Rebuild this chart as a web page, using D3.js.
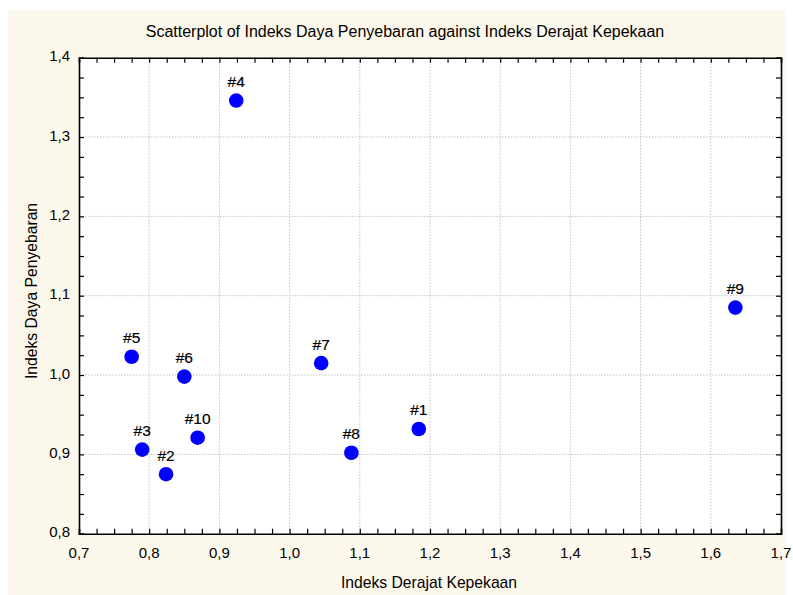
<!DOCTYPE html>
<html>
<head>
<meta charset="utf-8">
<script src="https://cdn.jsdelivr.net/npm/d3@7"></script>
<style>
	body { margin: 0; background: #ffffff; }
	text { font-family: Arial, "Liberation Sans", sans-serif; fill: #000; }
</style>
</head>
<body>
<div id="chart"></div>
<script>

// point labels and values
var caseLabels = ["#1", "#2", "#3", "#4", "#5", "#6", "#7", "#8", "#9", "#10"];
var derajatKepekaan = [1.184, 0.824, 0.790, 0.924, 0.775, 0.850, 1.045, 1.088, 1.635, 0.869];
var dayaPenyebaran = [0.932, 0.875, 0.906, 1.346, 1.023, 0.998, 1.015, 0.902, 1.085, 0.921];

var xTicks = [0.7, 0.8, 0.9, 1.0, 1.1, 1.2, 1.3, 1.4, 1.5, 1.6, 1.7];
var yTicks = [0.8, 0.9, 1.0, 1.1, 1.2, 1.3, 1.4];

var titleText = "Scatterplot of Indeks Daya Penyebaran against Indeks Derajat Kepekaan";
var xTitle = "Indeks Derajat Kepekaan";
var yTitle = "Indeks Daya Penyebaran";

function init() {

	var width = 793;
	var height = 595;
	var margin = {top: 57.7, right: 12, bottom: 61.3, left: 79};
	var plotW = width - margin.left - margin.right;
	var plotH = height - margin.top - margin.bottom;

	var svg = d3.select("div#chart")
		.append("svg")
		.attr("width", width)
		.attr("height", height);

	// cream panel behind everything
	svg.append("rect")
		.attr("x", 8)
		.attr("y", 10)
		.attr("width", 778)
		.attr("height", height - 10)
		.attr("fill", "#fdf8ec");

	var g = svg.append("g")
		.attr("transform", "translate(" + margin.left + "," + margin.top + ")");

	var x = d3.scaleLinear().domain([0.7, 1.7]).range([0, plotW]);
	var y = d3.scaleLinear().domain([0.8, 1.4]).range([plotH, 0]);

	var fmt = function(d) { return d3.format(".1f")(d).replace(".", ","); };

	g.append("rect")
		.attr("width", plotW)
		.attr("height", plotH)
		.attr("fill", "#ffffff");

	// dotted grid
	g.append("g")
		.selectAll("line")
		.data(xTicks.slice(1, -1))
		.enter()
		.append("line")
		.attr("x1", d => x(d)).attr("x2", d => x(d))
		.attr("y1", 0).attr("y2", plotH)
		.attr("stroke", "#c4c4c4")
		.attr("stroke-dasharray", "1.5,1.5");

	g.append("g")
		.selectAll("line")
		.data(yTicks.slice(1, -1))
		.enter()
		.append("line")
		.attr("y1", d => y(d)).attr("y2", d => y(d))
		.attr("x1", 0).attr("x2", plotW)
		.attr("stroke", "#c4c4c4")
		.attr("stroke-dasharray", "1.5,1.5");

	// minor ticks every 0.025, pointing inward on all four sides
	var xMinor = d3.range(0, 41).map(i => 0.7 + i * 0.025);
	var yMinor = d3.range(0, 25).map(i => 0.8 + i * 0.025);

	var bottomAxis = d3.axisBottom(x).tickValues(xMinor).tickSize(-5).tickFormat("");
	var topAxis = d3.axisTop(x).tickValues(xMinor).tickSize(-5).tickFormat("");
	var leftAxis = d3.axisLeft(y).tickValues(yMinor).tickSize(-5).tickFormat("");
	var rightAxis = d3.axisRight(y).tickValues(yMinor).tickSize(-5).tickFormat("");

	[
		[bottomAxis, "translate(0," + plotH + ")"],
		[topAxis, "translate(0,0)"],
		[leftAxis, "translate(0,0)"],
		[rightAxis, "translate(" + plotW + ",0)"]
	].forEach(function(a) {
		var ax = g.append("g").attr("transform", a[1]).call(a[0]);
		ax.select(".domain").attr("stroke", "#000").attr("stroke-width", 1.6);
		ax.selectAll(".tick line").attr("stroke", "#000").attr("stroke-width", 1.2);
	});

	// tick labels
	g.append("g")
		.selectAll("text")
		.data(xTicks)
		.enter()
		.append("text")
		.attr("x", d => x(d))
		.attr("y", plotH + 24)
		.attr("text-anchor", "middle")
		.style("font-size", "15px")
		.text(fmt);

	g.append("g")
		.selectAll("text")
		.data(yTicks)
		.enter()
		.append("text")
		.attr("x", -9)
		.attr("y", d => y(d))
		.attr("dy", "0.25em")
		.attr("text-anchor", "end")
		.style("font-size", "15px")
		.text(fmt);

	// points
	var points = caseLabels.map(function(l, i) {
		return {label: l, x: derajatKepekaan[i], y: dayaPenyebaran[i]};
	});

	g.append("g")
		.selectAll("circle")
		.data(points)
		.enter()
		.append("circle")
		.attr("cx", d => x(d.x))
		.attr("cy", d => y(d.y))
		.attr("r", 7.3)
		.attr("fill", "#0000ff");

	g.append("g")
		.selectAll("text")
		.data(points)
		.enter()
		.append("text")
		.attr("x", d => x(d.x))
		.attr("y", d => y(d.y) - 13.5)
		.attr("text-anchor", "middle")
		.style("font-size", "15.5px")
		.style("stroke", "#000")
		.style("stroke-width", 0.2)
		.text(d => d.label);

	// titles
	svg.append("text")
		.attr("x", 405)
		.attr("y", 37)
		.attr("text-anchor", "middle")
		.style("font-family", "'Liberation Sans Narrow', 'Arial Narrow', sans-serif")
		.style("font-size", "16px")
		.text(titleText);

	svg.append("text")
		.attr("x", 429)
		.attr("y", 588)
		.attr("text-anchor", "middle")
		.style("font-size", "15.7px")
		.text(xTitle);

	svg.append("text")
		.attr("transform", "translate(37,291) rotate(-90)")
		.attr("text-anchor", "middle")
		.style("font-size", "15.7px")
		.text(yTitle);
}

init();
</script>
</body>
</html>
